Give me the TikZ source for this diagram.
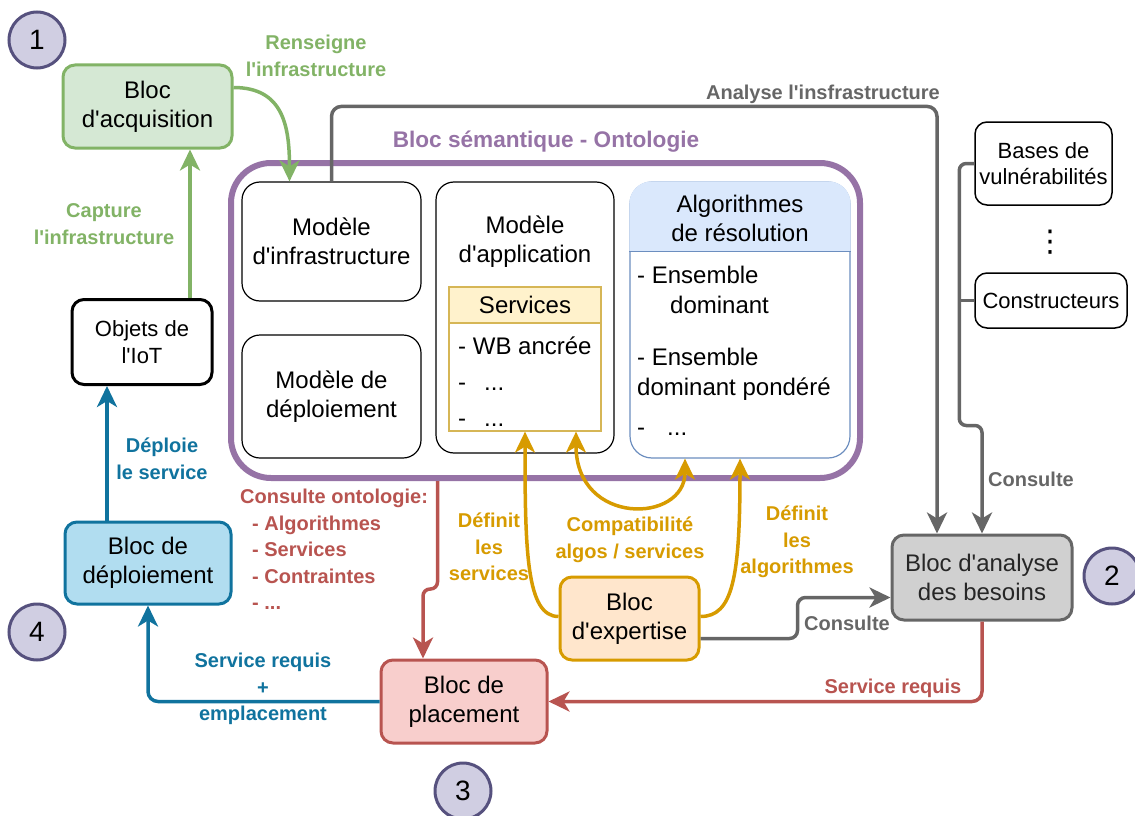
\documentclass[tikz,border=0pt]{standalone}
\usepackage{fontspec}
\setmainfont{Liberation Sans}[Ligatures=TeXOff]
\newfontfamily\symfont{DejaVu Sans}
\usepackage{tikz}
\usetikzlibrary{arrows.meta,positioning,calc}
\definecolor{vertbord}{HTML}{82B366}
\definecolor{vertfond}{HTML}{D5E8D4}
\definecolor{semviolet}{HTML}{9673A6}
\definecolor{grisbord}{HTML}{666666}
\definecolor{grisfond}{HTML}{D0D0D0}
\definecolor{orbord}{HTML}{D79B00}
\definecolor{orfond}{HTML}{FFE6CC}
\definecolor{rougebord}{HTML}{B85450}
\definecolor{rougefond}{HTML}{F8CECC}
\definecolor{bleubord}{HTML}{10739E}
\definecolor{bleufond}{HTML}{B1DDF0}
\definecolor{servbord}{HTML}{D6B656}
\definecolor{servfond}{HTML}{FFF2CC}
\definecolor{algobord}{HTML}{6C8EBF}
\definecolor{algofond}{HTML}{DAE8FC}
\definecolor{numbord}{HTML}{56517E}
\definecolor{numfond}{HTML}{D0CEE2}
\newcommand{\fntBloc}{\fontsize{24}{29}\selectfont}
\newcommand{\fntPetit}{\fontsize{22}{26.5}\selectfont}
\newcommand{\fntLbl}{\fontsize{20}{26.5}\selectfont\bfseries}
\newcommand{\fntTitre}{\fontsize{22.6}{26}\selectfont\bfseries}
\newcommand{\fntNum}{\fontsize{28}{30}\selectfont}

\begin{document}
\begin{tikzpicture}[
  x=1pt,y=-1pt,
  bloc/.style={draw,rounded corners=12pt,line width=3pt,align=center,font=\fntBloc,inner sep=0pt},
  modele/.style={draw=black,line width=1.2pt,rounded corners=18pt,align=center,font=\fntBloc,inner sep=0pt},
  source/.style={draw=black,line width=1.5pt,rounded corners=12pt,align=center,font=\fntPetit,inner sep=0pt},
  etape/.style={circle,draw=numbord,fill=numfond,line width=3pt,minimum size=56pt,inner sep=0pt,font=\fntNum},
  lbl/.style={align=center,font=\fntLbl,inner sep=0pt},
  fleche/.style={-{Stealth[length=21pt,width=20pt,inset=6pt]},line width=3.5pt,rounded corners=10pt},
  doublefleche/.style={{Stealth[length=21pt,width=20pt,inset=6pt]}-{Stealth[length=21pt,width=20pt,inset=6pt]},line width=3.5pt}
]
  \useasboundingbox (0,0) rectangle (1135,816);

  \node[etape] (num1) at (37,40) {1};
  \node[etape] (num2) at (1112,576) {2};
  \node[etape] (num3) at (463,791) {3};
  \node[etape] (num4) at (37,632) {4};

  \node[bloc,draw=vertbord,fill=vertfond,minimum width=169pt,minimum height=83pt] (acq) at (147.5,106.5) {Bloc\\d'acquisition};
  \node[bloc,draw=black,font=\fntPetit,minimum width=140pt,minimum height=85pt] (iot) at (142,342) {Objets de\\l'IoT};
  \node[bloc,draw=bleubord,fill=bleufond,minimum width=166pt,minimum height=82pt] (deploy) at (148,563) {Bloc de\\déploiement};
  \node[bloc,draw=rougebord,fill=rougefond,minimum width=166pt,minimum height=83pt] (placement) at (464,701.5) {Bloc de\\placement};
  \node[bloc,draw=orbord,fill=orfond,minimum width=139pt,minimum height=83pt] (expertise) at (629.5,618.5) {Bloc\\d'expertise};
  \node[bloc,draw=grisbord,fill=grisfond,text=black!85,minimum width=180pt,minimum height=85pt] (analyse) at (982,577.5) {Bloc d'analyse\\des besoins};

  \node[source,minimum width=137pt,minimum height=83pt] (bases) at (1043.5,163.5) {Bases de\\vulnérabilités};
  \node[inner sep=0pt,font=\fontsize{30}{30}\symfont] (vpoints) at (1050,242) {⋮};
  \node[source,minimum width=152pt,minimum height=55pt] (constructeurs) at (1051,300.5) {Constructeurs};

  \node[draw=semviolet,line width=6pt,rounded corners=40pt,minimum width=629pt,minimum height=315pt] (semantique) at (545.5,320.5) {};
  \node[font=\fntTitre,text=semviolet] (lblSem) at (546,142) {Bloc sémantique - Ontologie};

  \node[modele,minimum width=179pt,minimum height=119pt] (infra) at (331.5,241.5) {Modèle\\d'infrastructure};
  \node[modele,minimum width=179pt,minimum height=123pt] (depmod) at (331.5,396.5) {Modèle de\\déploiement};
  \node[modele,minimum width=178pt,minimum height=271pt] (app) at (525,317.5) {};
  \node[align=center,font=\fntBloc] (apptxt) at (525,242) {Modèle\\d'application};
  \node[draw=servbord,line width=1.2pt,minimum width=152pt,minimum height=144pt,inner sep=0pt] (services) at (525,359) {};
  \node[draw=servbord,fill=servfond,line width=1.2pt,minimum width=152pt,minimum height=36pt,inner sep=0pt,anchor=north,font=\fntBloc] (servtete) at (services.north) {Services};
  \node[align=left,anchor=north west,inner sep=0pt,font=\fontsize{24}{36}\selectfont] (servcorps) at (458,337) {- WB ancrée\\-\hspace{18pt}...\\-\hspace{18pt}...};

  \node[draw=algobord,line width=1.2pt,rounded corners=22pt,minimum width=220pt,minimum height=276pt] (algo) at (740,320) {};
  \fill[algofond] ([yshift=-70pt]algo.north west) {[rounded corners=22pt] -- (algo.north west) -- (algo.north east)} -- ([yshift=-70pt]algo.north east) -- cycle;
  \draw[algobord,line width=1.2pt] ([yshift=-70pt]algo.north west) -- ([yshift=-70pt]algo.north east);
  \node[align=center,font=\fntBloc] (algotete) at (740,218) {Algorithmes\\de résolution};
  \node[align=left,anchor=north west,inner sep=0pt,font=\fontsize{24}{30}\selectfont] (algocorps) at (637,266) {- Ensemble\\\hspace*{33pt}dominant\\[22pt]- Ensemble\\dominant pondéré\\[10pt]-\hspace{22pt}...};

  \draw[fleche,draw=vertbord] ([yshift=19pt]acq.east) .. controls +(50,0) and +(0,-55) .. ([xshift=-42pt]infra.north);
  \draw[fleche,draw=vertbord] ([xshift=48pt]iot.north) -- ([xshift=48pt]iot.north |- acq.south);
  \draw[fleche,draw=bleubord] ([xshift=-41pt]deploy.north) -- ([xshift=-41pt]deploy.north |- iot.south);
  \draw[fleche,draw=bleubord] (placement.west) -| (deploy.south);
  \draw[fleche,draw=rougebord,rounded corners=7pt] ([xshift=-108pt]semantique.south) -- ++(0,108) -| ([xshift=-41pt]placement.north);
  \draw[fleche,draw=rougebord] (analyse.south) |- (placement.east);
  \draw[fleche,draw=grisbord] (infra.north) -- ++(0,-75) -| ([xshift=-45pt]analyse.north);
  \draw[fleche,draw=grisbord,rounded corners=7pt] (bases.west) -- ++(-15,0) -- ++(0,262) -| (analyse.north);
  \draw[line width=3.5pt,draw=grisbord,rounded corners=7pt] (constructeurs.west) -- ++(-15,0);
  \draw[fleche,draw=grisbord,rounded corners=8pt] ([yshift=-20pt]expertise.east) -- ++(97,0) |- ([yshift=-20pt]analyse.west);
  \draw[fleche,draw=orbord] ([yshift=2pt]expertise.west) .. controls +(-32,0) and +(0,120) .. (services.south);
  \draw[fleche,draw=orbord] ([yshift=2pt]expertise.east) .. controls +(32,0) and +(0,120) .. (algo.south);
  \draw[doublefleche,draw=orbord] ([xshift=51pt]services.south) .. controls +(0,95) and +(0,65) .. ([xshift=-55pt]algo.south);

  \node[lbl,text=vertbord] (lblRens) at (316,56) {Renseigne\\l'infrastructure};
  \node[lbl,text=vertbord] (lblCapt) at (104,224) {Capture\\l'infrastructure};
  \node[lbl,text=grisbord] (lblAnal) at (823,94) {Analyse l'insfrastructure};
  \node[lbl,text=grisbord] (lblCons1) at (1031,479) {Consulte};
  \node[lbl,text=grisbord] (lblCons2) at (847,623) {Consulte};
  \node[lbl,text=rougebord] (lblReq) at (893,688) {Service requis};
  \node[lbl,text=rougebord,align=left,anchor=north west] (lblOnto) at (240,489) {Consulte ontologie:\\\hspace*{12pt}- Algorithmes\\\hspace*{12pt}- Services\\\hspace*{12pt}- Contraintes\\\hspace*{12pt}- ...};
  \node[lbl,text=bleubord] (lblEmpl) at (263,689) {Service requis\\+\\emplacement};
  \node[lbl,text=bleubord] (lblDepl) at (162,459) {Déploie\\le service};
  \node[lbl,text=orbord] (lblDefS) at (489,547) {Définit\\les\\services};
  \node[lbl,text=orbord] (lblCompat) at (630,540) {Compatibilité\\algos / services};
  \node[lbl,text=orbord] (lblDefA) at (797,542) {Définit\\les\\algorithmes};
\end{tikzpicture}
\end{document}
